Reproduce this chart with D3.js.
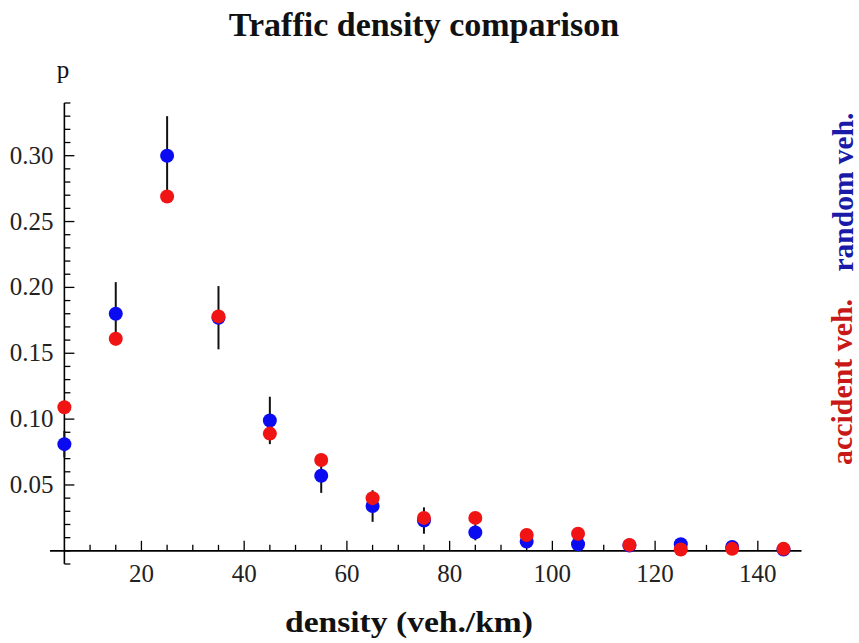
<!DOCTYPE html>
<html>
<head>
<meta charset="utf-8">
<script src="https://cdn.jsdelivr.net/npm/d3@7/dist/d3.min.js"></script>
<style>
  body { margin: 0; background: #fff; }
  text { font-family: "Liberation Serif", "Times New Roman", serif; }
</style>
</head>
<body>
<script>
// data
var density = [5, 15, 25, 35, 45, 55, 65, 75, 85, 95, 105, 115, 125, 135, 145]
var randomVeh = [0.081, 0.180, 0.300, 0.177, 0.099, 0.057, 0.034, 0.023, 0.014, 0.007, 0.005, 0.004, 0.005, 0.003, 0.001]
var randomErr = [0.010, 0.024, 0.030, 0.024, 0.018, 0.013, 0.012, 0.010, 0.006, 0.005, 0.004, 0.003, 0.003, 0.002, 0.001]
var accidentVeh = [0.109, 0.161, 0.269, 0.178, 0.089, 0.069, 0.040, 0.025, 0.025, 0.012, 0.013, 0.0045, 0.001, 0.0015, 0.0015]
var yMajor = [0.05, 0.10, 0.15, 0.20, 0.25, 0.30]
var xMajor = [20, 40, 60, 80, 100, 120, 140]

var w = 859,
    h = 643

var svg = d3.select('body').append('svg')
    .attr('width', w)
    .attr('height', h)

svg.append('rect').attr('width', w).attr('height', h).attr('fill', '#fff')

var x = d3.scaleLinear().domain([2.2, 148.5]).range([50, 801.5])
var y = d3.scaleLinear().domain([-0.01, 0.34]).range([564, 103])

// y axis sits at x = 5, x axis at p = 0
var x0 = x(5), y0 = y(0)

var axes = svg.append('g').attr('stroke', '#000').attr('fill', 'none')

axes.append('line')
    .attr('x1', x.range()[0]).attr('x2', x.range()[1])
    .attr('y1', y0).attr('y2', y0)
    .attr('stroke-width', 1.6)

axes.append('line')
    .attr('x1', x0).attr('x2', x0)
    .attr('y1', y.range()[0]).attr('y2', y.range()[1])
    .attr('stroke-width', 1.6)

// y ticks every 0.01, longer on majors
var yTicks = d3.range(-1, 35).map(function(i) { return i / 100 })
axes.selectAll('.yt').data(yTicks).enter().append('line')
    .attr('x1', x0)
    .attr('x2', function(d) { return x0 + (Math.round(d * 100) % 5 == 0 && d > 0 ? 10 : 6) })
    .attr('y1', function(d) { return y(d) })
    .attr('y2', function(d) { return y(d) })
    .attr('stroke-width', 1.3)

// x ticks every 5
var xTicks = d3.range(10, 149, 5)
axes.selectAll('.xt').data(xTicks).enter().append('line')
    .attr('x1', function(d) { return x(d) })
    .attr('x2', function(d) { return x(d) })
    .attr('y1', y0)
    .attr('y2', function(d) { return y0 - (d % 20 == 0 ? 10 : 6) })
    .attr('stroke-width', 1.3)

svg.selectAll('.ylab').data(yMajor).enter().append('text')
    .attr('x', x0 - 11)
    .attr('y', function(d) { return y(d) + 8 })
    .attr('text-anchor', 'end')
    .attr('font-size', 25)
    .attr('fill', '#222')
    .text(function(d) { return d.toFixed(2) })

svg.selectAll('.xlab').data(xMajor).enter().append('text')
    .attr('x', function(d) { return x(d) })
    .attr('y', y0 + 31)
    .attr('text-anchor', 'middle')
    .attr('font-size', 25)
    .attr('fill', '#222')
    .text(function(d) { return d })

// error bars on the random vehicles
var pts = density.map(function(d, i) {
    return { x: d, r: randomVeh[i], e: randomErr[i], a: accidentVeh[i] }
})

svg.selectAll('.err').data(pts).enter().append('line')
    .attr('x1', function(d) { return x(d.x) })
    .attr('x2', function(d) { return x(d.x) })
    .attr('y1', function(d) { return y(d.r + d.e) })
    .attr('y2', function(d) { return y(d.r - d.e) })
    .attr('stroke', '#111')
    .attr('stroke-width', 2)

svg.selectAll('.blue').data(pts).enter().append('circle')
    .attr('cx', function(d) { return x(d.x) })
    .attr('cy', function(d) { return y(d.r) })
    .attr('r', 7)
    .attr('fill', '#0b0bf2')

svg.selectAll('.red').data(pts).enter().append('circle')
    .attr('cx', function(d) { return x(d.x) })
    .attr('cy', function(d) { return y(d.a) })
    .attr('r', 7)
    .attr('fill', '#f01414')

// titles
svg.append('text')
    .attr('x', 424).attr('y', 36)
    .attr('text-anchor', 'middle')
    .attr('font-size', 34).attr('font-weight', 'bold')
    .attr('fill', '#111')
    .text('Traffic density comparison')

svg.append('text')
    .attr('x', 409).attr('y', 632)
    .attr('text-anchor', 'middle')
    .attr('font-size', 30).attr('font-weight', 'bold')
    .attr('textLength', 248).attr('lengthAdjust', 'spacingAndGlyphs')
    .attr('fill', '#111')
    .text('density (veh./km)')

svg.append('text')
    .attr('x', 63).attr('y', 78)
    .attr('text-anchor', 'middle')
    .attr('font-size', 25)
    .attr('fill', '#111')
    .text('p')

svg.append('text')
    .attr('transform', 'translate(853,192) rotate(-90)')
    .attr('text-anchor', 'middle')
    .attr('font-size', 30).attr('font-weight', 'bold')
    .attr('textLength', 159).attr('lengthAdjust', 'spacingAndGlyphs')
    .attr('fill', '#1a1aa8')
    .text('random veh.')

svg.append('text')
    .attr('transform', 'translate(852,382) rotate(-90)')
    .attr('text-anchor', 'middle')
    .attr('font-size', 30).attr('font-weight', 'bold')
    .attr('textLength', 166).attr('lengthAdjust', 'spacingAndGlyphs')
    .attr('fill', '#c81818')
    .text('accident veh.')
</script>
</body>
</html>
